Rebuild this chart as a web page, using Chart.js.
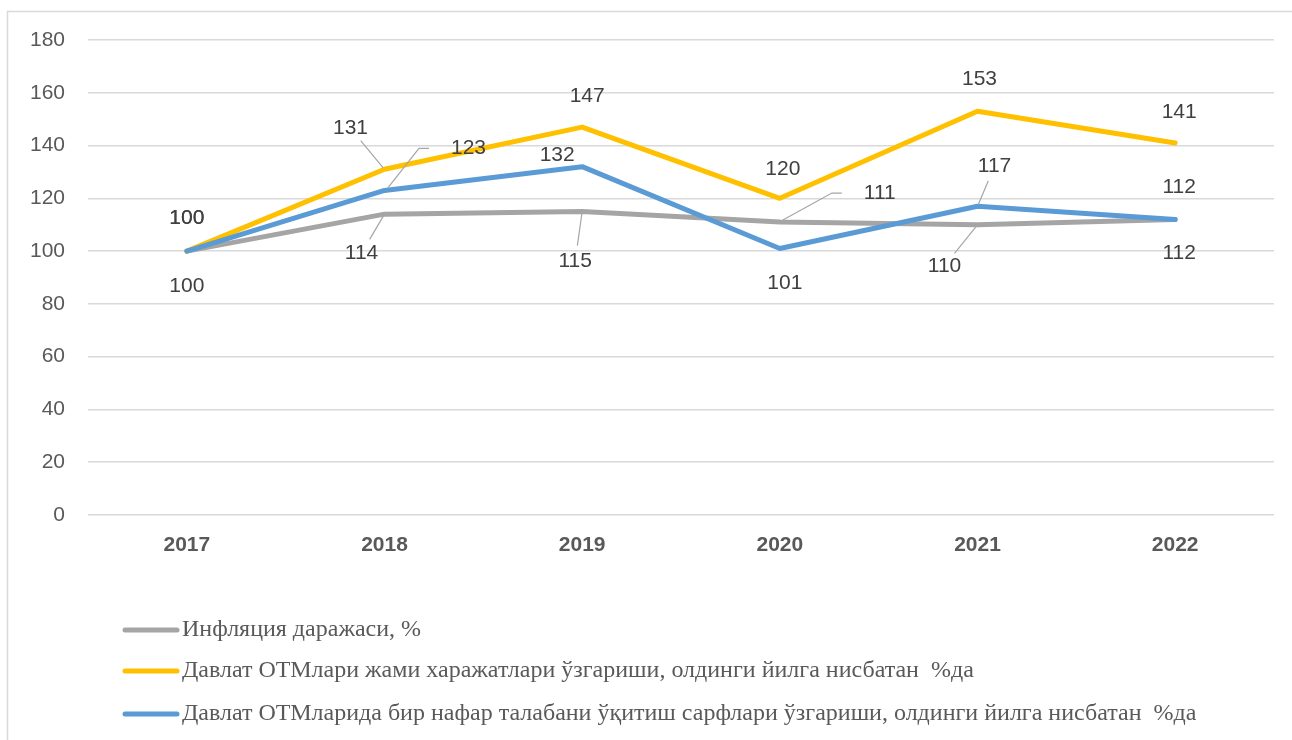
<!DOCTYPE html>
<html>
<head>
<meta charset="utf-8">
<script src="https://cdn.jsdelivr.net/npm/chart.js@4"></script>
<style>
  html, body { margin: 0; padding: 0; background: #fff; }
  #wrap { width: 1292px; height: 740px; position: relative; }
</style>
</head>
<body>
<div id="wrap"><canvas id="chart" width="1292" height="740"></canvas></div>
<script>
// Данные
const years = ["2017", "2018", "2019", "2020", "2021", "2022"];
const inflation = [100, 114, 115, 111, 110, 112];
const totalSpending = [100, 131, 147, 120, 153, 141];
const perStudent = [100, 123, 132, 101, 117, 112];
const yTicks = [0, 20, 40, 60, 80, 100, 120, 140, 160, 180];

const seriesNames = [
  "Инфляция даражаси, %",
  "Давлат ОТМлари жами харажатлари ўзгариши, олдинги йилга нисбатан  %да",
  "Давлат ОТМларида бир нафар талабани ўқитиш сарфлари ўзгариши, олдинги йилга нисбатан  %да"
];

// смещения подписей относительно точки (px) и выноски
const labelOffsets = [
  [[0, 35], [-23, 39, 1], [-7, 50, 1], [100, -29, 2], [-33, 41, 1], [4, 34]],
  [[0, -33], [-34, -41, 1], [5, -31], [3, -29], [2, -32], [4, -31]],
  [[0, -33], [84, -42, 2], [-25, -11], [5, 35], [17, -40, 1], [4, -32]]
];

const frame = {
  id: "frame",
  beforeDraw(chart) {
    const c = chart.ctx;
    c.save();
    c.strokeStyle = "#d9d9d9";
    c.lineWidth = 1.5;
    c.strokeRect(7.5, 11.5, 1400, 900);
    c.restore();
  }
};

const dataLabels = {
  id: "dataLabels",
  afterDatasetsDraw(chart) {
    const c = chart.ctx;
    c.save();
    c.font = "21px 'Liberation Sans', Arial, sans-serif";
    c.fillStyle = "#404040";
    c.textAlign = "center";
    c.textBaseline = "middle";
    chart.data.datasets.forEach((ds, di) => {
      const meta = chart.getDatasetMeta(di);
      meta.data.forEach((pt, i) => {
        const off = labelOffsets[di][i];
        const lx = pt.x + off[0], ly = pt.y + off[1];
        const txt = String(ds.data[i]);
        const w = c.measureText(txt).width;
        if (off[2]) {
          c.strokeStyle = "#a6a6a6";
          c.lineWidth = 1.2;
          c.beginPath();
          if (off[2] === 2) {
            const ex = lx - w / 2 - 22;
            c.moveTo(pt.x + 3, pt.y - 2);
            c.lineTo(ex - 10, ly);
            c.lineTo(ex, ly);
          } else {
            const dx = lx - pt.x, dy = ly - pt.y;
            const len = Math.hypot(dx, dy);
            const ux = dx / len, uy = dy / len;
            c.moveTo(pt.x + ux * 2, pt.y + uy * 2);
            c.lineTo(pt.x + ux * (len - 16), pt.y + uy * (len - 16));
          }
          c.stroke();
        }
        c.fillText(txt, lx, ly);
      });
    });
    c.restore();
  }
};

const legendRows = {
  id: "legendRows",
  afterDraw(chart) {
    const c = chart.ctx;
    const rowsY = [630, 671, 714];
    c.save();
    c.font = "24px 'Liberation Serif', 'Times New Roman', serif";
    c.textBaseline = "middle";
    chart.data.datasets.forEach((ds, i) => {
      const y = rowsY[i];
      c.strokeStyle = ds.borderColor;
      c.lineWidth = 5;
      c.lineCap = "round";
      c.beginPath();
      c.moveTo(125, y);
      c.lineTo(177, y);
      c.stroke();
      c.fillStyle = "#595959";
      c.fillText(ds.label, 182, y);
    });
    c.restore();
  }
};

new Chart(document.getElementById("chart"), {
  type: "line",
  data: {
    labels: years,
    datasets: [
      { label: seriesNames[0], data: inflation, borderColor: "#a5a5a5", order: 2 },
      { label: seriesNames[1], data: totalSpending, borderColor: "#ffc000", order: 1 },
      { label: seriesNames[2], data: perStudent, borderColor: "#5b9bd5", order: 0 }
    ]
  },
  options: {
    responsive: false,
    animation: false,
    layout: { padding: { top: 40, right: 18, bottom: 165, left: 0 } },
    elements: {
      line: { borderWidth: 5, tension: 0, borderCapStyle: "round", borderJoinStyle: "round" },
      point: { radius: 0, hoverRadius: 0 }
    },
    plugins: { legend: { display: false }, tooltip: { enabled: false } },
    scales: {
      x: {
        offset: true,
        grid: { display: false, drawTicks: false },
        border: { display: false },
        ticks: {
          padding: 18,
          color: "#595959",
          font: { family: "'Liberation Sans', Arial, sans-serif", size: 21, weight: "bold" }
        },
        afterFit(s) { s.height = 60; }
      },
      y: {
        min: 0,
        max: 180,
        afterBuildTicks(s) { s.ticks = yTicks.map(v => ({ value: v })); },
        grid: { color: "#d9d9d9", lineWidth: 1.5, drawTicks: false },
        border: { display: false },
        ticks: {
          padding: 23,
          color: "#595959",
          font: { family: "'Liberation Sans', Arial, sans-serif", size: 21 }
        },
        afterFit(s) { s.width = 88; }
      }
    }
  },
  plugins: [frame, dataLabels, legendRows]
});
</script>
</body>
</html>
